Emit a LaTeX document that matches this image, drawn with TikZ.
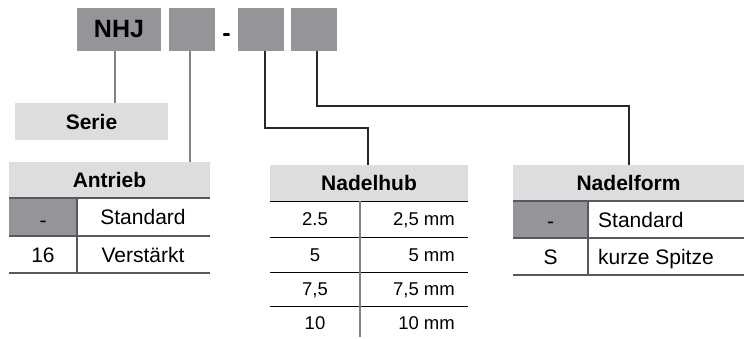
\documentclass[tikz,border=0pt]{standalone}
\usepackage{fontspec}
\setmainfont{Liberation Sans}
\definecolor{dk}{RGB}{147,149,152}
\definecolor{lt}{RGB}{220,221,222}
\definecolor{ln}{RGB}{88,89,91}
\definecolor{cn}{RGB}{40,40,40}
\definecolor{gv}{RGB}{130,130,132}
\begin{document}
\begin{tikzpicture}[x=1pt,y=-1pt,
  topbox/.style={fill=dk,inner sep=0pt,minimum height=43pt,font=\fontsize{25}{30}\selectfont\bfseries},
  hdr/.style={fill=lt,inner sep=0pt,minimum height=36pt,font=\fontsize{21}{25}\selectfont\bfseries},
  cell/.style={inner sep=0pt,anchor=base,font=\fontsize{21}{25}\selectfont},
  scell/.style={inner sep=0pt,anchor=base,font=\fontsize{18.5}{22}\selectfont},
  tline/.style={draw=ln,line width=1.3pt},
  hline/.style={draw=black,line width=1pt},
  conn/.style={draw=cn,line width=1.2pt},
  gconn/.style={draw=gv,line width=1.3pt}]
\useasboundingbox (0,0) rectangle (744,338);

% top code boxes
\node[topbox,minimum width=84pt] (nhj) at (119,29.5) {NHJ};
\node[topbox,minimum width=46pt] (b2) at (192,29.5) {};
\node[inner sep=0pt,anchor=base,font=\fontsize{25}{30}\selectfont\bfseries] (dash) at (226.5,41) {-};
\node[topbox,minimum width=46pt] (b3) at (261,29.5) {};
\node[topbox,minimum width=46pt] (b4) at (314,29.5) {};

% Serie
\node[hdr,minimum width=153pt,minimum height=37pt] (serie) at (91.5,121.5) {Serie};

% Antrieb table
\node[hdr,minimum width=201pt] (antr) at (109.5,180) {Antrieb};
\fill[dk] (9,198) rectangle (77,236);
\draw[tline] (9,198) -- (210,198);
\draw[tline] (9,236) -- (210,236);
\draw[tline] (9,273) -- (210,273);
\draw[tline] (77,198) -- (77,273);
\node[cell] (a1k) at (43,227) {-};
\node[cell] (a1v) at (143,224.5) {Standard};
\node[cell] (a2k) at (43,262) {16};
\node[cell] (a2v) at (143,262) {Verstärkt};

% Nadelhub table
\node[hdr,minimum width=198pt] (nhub) at (369,183) {Nadelhub};
\draw[hline] (270,201) -- (468,201);
\draw[hline] (270,237) -- (468,237);
\draw[hline] (270,272) -- (468,272);
\draw[hline] (270,306) -- (468,306);
\draw[draw=gv,line width=2pt] (360,201) -- (360,337);
\node[scell] (h1k) at (315,225.6) {2.5};
\node[scell,anchor=base east] (h1v) at (455,225.6) {2,5 mm};
\node[scell] (h2k) at (315,261) {5};
\node[scell,anchor=base east] (h2v) at (455,261) {5 mm};
\node[scell] (h3k) at (315,295.6) {7,5};
\node[scell,anchor=base east] (h3v) at (455,295.6) {7,5 mm};
\node[scell] (h4k) at (315,329) {10};
\node[scell,anchor=base east] (h4v) at (455,329) {10 mm};

% Nadelform table
\node[hdr,minimum width=231pt] (nform) at (628.5,183) {Nadelform};
\fill[dk] (513,201) rectangle (588,238);
\draw[tline] (513,201) -- (744,201);
\draw[tline] (513,238) -- (744,238);
\draw[tline] (513,275) -- (744,275);
\draw[tline] (588,201) -- (588,275);
\node[cell] (f1k) at (550.5,228.5) {-};
\node[cell,anchor=base west] (f1v) at (598,227) {Standard};
\node[cell] (f2k) at (550.5,264) {S};
\node[cell,anchor=base west] (f2v) at (598,264) {kurze Spitze};

% connectors
\coordinate (k1) at (115,0);
\coordinate (k2) at (190,0);
\coordinate (k3) at (265,0);
\coordinate (k3b) at (368,128);
\coordinate (k4) at (317,0);
\coordinate (k4b) at (629,106);
\draw[gconn] (nhj.south -| k1) -- (serie.north -| k1);
\draw[gconn] (b2.south -| k2) -- (antr.north -| k2);
\draw[conn] (b3.south -| k3) |- (k3b) -- (k3b |- nhub.north);
\draw[conn] (b4.south -| k4) |- (k4b) -- (k4b |- nform.north);
\end{tikzpicture}
\end{document}
